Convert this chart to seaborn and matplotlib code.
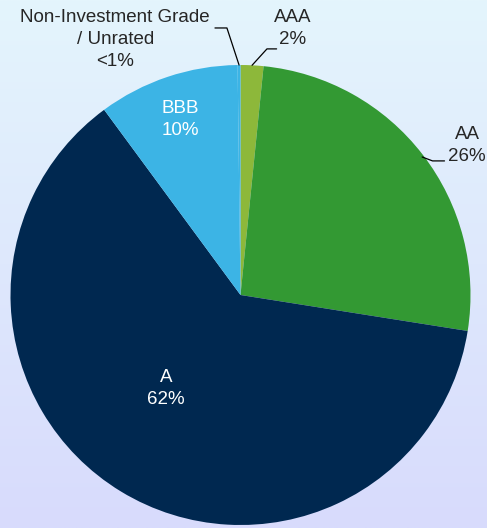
import numpy as np
import matplotlib
matplotlib.use("Agg")
import matplotlib.pyplot as plt
import seaborn as sns

# data
ratings = ["AAA", "AA", "A", "BBB", "Non-Investment Grade\n/ Unrated"]
shares = [1.6, 25.9, 62.4, 9.9, 0.2]
share_labels = ["2%", "26%", "62%", "10%", "<1%"]
colors = ["#8DB83A", "#339933", "#002850", "#3CB4E5", "#3CB4E5"]

sns.set_theme(style="white")
plt.rcParams['font.family'] = ['Liberation Sans', 'DejaVu Sans']

fig = plt.figure(figsize=(4.87, 5.28), dpi=100)

# gradient background
bg = fig.add_axes([0, 0, 1, 1], zorder=-1)
top = np.array([228, 245, 252]) / 255
bottom = np.array([216, 219, 253]) / 255
t = np.linspace(0, 1, 256)[:, None]
grad = (top * (1 - t) + bottom * t)[:, None, :]
bg.imshow(grad, aspect='auto', extent=[0, 1, 0, 1])
bg.axis('off')

# pie axes: center ~ (240.5, 295) px, radius ~230 px
ax = fig.add_axes([10.5 / 487, 3 / 528, 460 / 487, 460 / 528])
ax.patch.set_alpha(0)
wedges, _ = ax.pie(shares, colors=colors, startangle=90, counterclock=False,
                   radius=1, wedgeprops=dict(linewidth=0))
ax.set_xlim(-1, 1)
ax.set_ylim(-1, 1)
ax.set_aspect('equal')
ax.axis('off')

fs = 13.5
ls = 1.38


def mid_point(w, r=1.0):
    ang = np.deg2rad((w.theta1 + w.theta2) / 2)
    return r * np.cos(ang), r * np.sin(ang)


# inside labels (white)
ax.text(-0.263, 0.763, f"{ratings[3]}\n{share_labels[3]}", color="white",
        ha="center", va="center", fontsize=fs, linespacing=ls)
ax.text(-0.324, -0.408, f"{ratings[2]}\n{share_labels[2]}", color="white",
        ha="center", va="center", fontsize=fs, linespacing=ls)

# outside labels with leader lines
# AA
px, py = 0.79, 0.60
ax.plot([px, 0.835, 0.887], [py, 0.583, 0.583], color="black", lw=0.9, clip_on=False)
ax.text(0.985, 0.648, f"{ratings[1]}\n{share_labels[1]}", ha="center", va="center",
        fontsize=fs, linespacing=ls)

# AAA
px, py = mid_point(wedges[0])
ax.plot([px, 0.115, 0.157], [py, 1.070, 1.070], color="black", lw=0.9, clip_on=False)
ax.text(0.228, 1.157, f"{ratings[0]}\n{share_labels[0]}", ha="center", va="center",
        fontsize=fs, linespacing=ls)

# Non-investment grade
px, py = mid_point(wedges[4])
ax.plot([px, -0.059, -0.111], [py, 1.161, 1.161], color="black", lw=0.9, clip_on=False)
ax.text(-0.545, 1.109, f"{ratings[4]}\n{share_labels[4]}", ha="center", va="center",
        fontsize=fs, linespacing=ls)

fig.savefig("out.png", dpi=100)
